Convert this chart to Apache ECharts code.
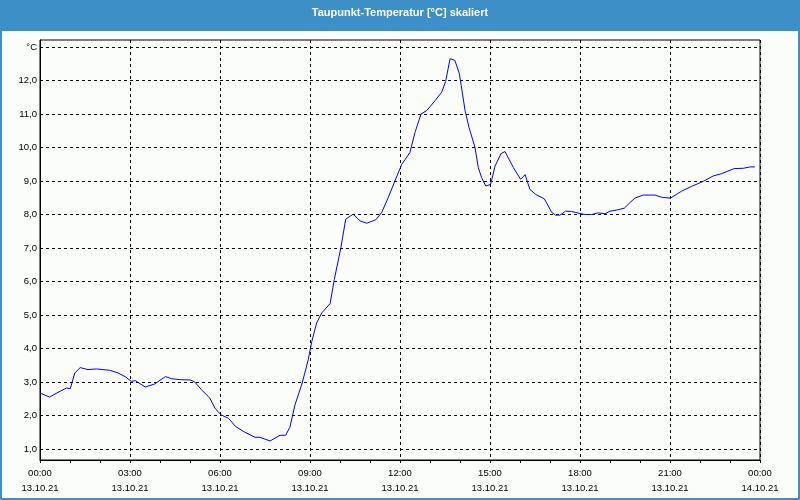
<!DOCTYPE html>
<html>
<head>
<meta charset="utf-8">
<script src="https://cdn.jsdelivr.net/npm/echarts@6/dist/echarts.min.js"></script>
<style>
html,body{margin:0;padding:0;background:#fbfdfb;}
#chart{width:800px;height:500px;}
</style>
</head>
<body>
<div id="chart"></div>
<script>
// Time in hours since 13.10.21 00:00
const hours = [0.0,0.32,0.6,0.88,1.01,1.16,1.34,1.6,1.88,2.32,2.6,2.84,3.04,3.18,3.51,3.82,4.18,4.38,4.66,5.02,5.16,5.38,5.66,5.83,6.03,6.28,6.52,6.83,7.17,7.33,7.67,8.0,8.19,8.33,8.5,8.74,8.94,9.06,9.22,9.39,9.67,9.81,10.03,10.19,10.44,10.67,10.89,11.19,11.39,11.61,11.83,12.06,12.33,12.5,12.7,12.89,13.17,13.39,13.52,13.67,13.83,13.98,14.17,14.3,14.5,14.61,14.72,14.86,15.02,15.17,15.37,15.5,15.78,16.02,16.17,16.33,16.52,16.81,17.06,17.19,17.33,17.52,17.72,18.0,18.17,18.39,18.61,18.83,19.0,19.22,19.48,19.67,19.83,20.11,20.5,20.74,21.02,21.39,21.72,22.11,22.44,22.72,23.14,23.44,23.67,23.83];
const dewPoint = [2.67,2.55,2.69,2.82,2.80,3.27,3.43,3.37,3.39,3.35,3.27,3.16,3.02,3.04,2.85,2.94,3.16,3.10,3.07,3.06,3.00,2.77,2.52,2.22,2.02,1.92,1.67,1.50,1.35,1.35,1.24,1.41,1.41,1.65,2.32,2.97,3.66,4.21,4.76,5.06,5.34,6.06,7.01,7.86,8.01,7.81,7.74,7.84,8.06,8.51,9.00,9.50,9.85,10.45,11.0,11.1,11.4,11.65,11.97,12.65,12.6,12.2,11.1,10.6,10.0,9.4,9.1,8.85,8.9,9.45,9.82,9.88,9.40,9.05,9.19,8.75,8.60,8.47,8.06,7.98,7.98,8.10,8.09,8.03,8.0,8.0,8.05,8.02,8.10,8.13,8.19,8.36,8.49,8.58,8.58,8.51,8.49,8.70,8.84,8.99,9.15,9.22,9.37,9.38,9.42,9.42];
const xTickTimes = ['00:00','03:00','06:00','09:00','12:00','15:00','18:00','21:00','00:00'];
const xTickDates = ['13.10.21','13.10.21','13.10.21','13.10.21','13.10.21','13.10.21','13.10.21','13.10.21','14.10.21'];
const yUnit = '°C';
const titleText = 'Taupunkt-Temperatur [°C] skaliert';

const chart = echarts.init(document.getElementById('chart'));
const dash = {color:'#000', width:1, type:[3,3]};
const font = 'Liberation Sans';
chart.setOption({
  animation:false,
  backgroundColor:'#fbfdfb',
  graphic:[
    {type:'rect', shape:{x:0,y:0,width:800,height:31}, style:{fill:'#3d8fc7'}, z:-1},
    {type:'rect', shape:{x:1,y:1,width:798,height:498}, style:{fill:null, stroke:'#3d8fc7', lineWidth:2}, z:10},
    {type:'text', x:400, y:13, style:{text:titleText, fill:'#fff', font:'bold 11px "Liberation Sans"', align:'center', verticalAlign:'middle'}}
  ],
  grid:[
    {left:40, right:40, top:40, bottom:40, show:true, borderColor:'#000', borderWidth:1, backgroundColor:'transparent'},
    {left:40, right:40, top:47, bottom:51, show:false}
  ],
  xAxis:[
    {type:'value', gridIndex:0, min:0, max:24, interval:3,
     axisLine:{show:true, lineStyle:{color:'#000', width:1}},
     axisTick:{show:true, length:3, lineStyle:{color:'#000'}},
     minorTick:{show:true, splitNumber:3, length:3, lineStyle:{color:'#000'}},
     splitLine:{show:true, lineStyle:dash},
     axisLabel:{show:true, margin:6, color:'#000', fontFamily:font, fontSize:9.5, lineHeight:15, showMinLabel:true, showMaxLabel:true,
       formatter:function(v){const i=Math.round(v/3); return xTickTimes[i]+'\n'+xTickDates[i];}}
    },
    {type:'value', gridIndex:1, min:0, max:24, show:false, splitLine:{show:false}}
  ],
  yAxis:[
    {type:'value', gridIndex:0, min:0, max:1, axisLine:{show:true, lineStyle:{color:'#000'}}, axisTick:{show:false}, axisLabel:{show:false}, splitLine:{show:false}},
    {type:'value', gridIndex:1, min:1, max:13, interval:1,
     axisLine:{show:false}, axisTick:{show:false},
     splitLine:{show:true, lineStyle:dash},
     axisLabel:{margin:3, color:'#000', fontFamily:font, fontSize:9.5,
       formatter:function(v){return v===13 ? yUnit : v.toFixed(1).replace('.',',');}}
    }
  ],
  series:[{
    type:'line', xAxisIndex:1, yAxisIndex:1,
    data: hours.map((h,i)=>[h, dewPoint[i]]),
    showSymbol:false, symbol:'none',
    lineStyle:{color:'#0000ff', width:1},
    z:5
  }]
});
</script>
</body>
</html>
